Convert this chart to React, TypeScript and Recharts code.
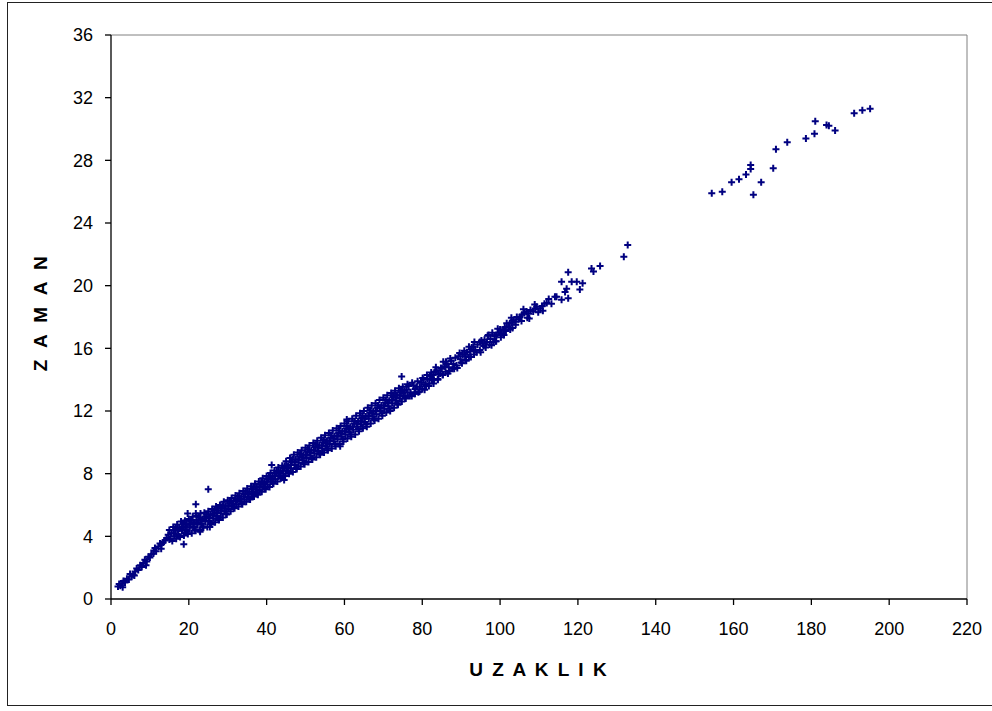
import React from 'react';
import { ScatterChart, Scatter, XAxis, YAxis, ReferenceLine, Label } from 'recharts';

// UZAKLIK (x) vs ZAMAN (y)
const SEG_A: [number, number][] = [
  [1.8,0.8],[2.1,0.95],[2.4,0.85],[2.9,1.0],[3.2,1.15],[3.6,1.05],[4.1,1.3],[4.6,1.25],[4.9,1.6],[5.3,1.45],
  [5.7,1.55],[6.2,1.75],[6.6,1.95],[7.0,1.85],[7.5,2.15],[7.9,2.05],[8.3,2.3],[8.7,2.5],[9.2,2.4],[9.6,2.7],
  [10.0,2.65],[10.4,2.85],[10.9,2.9],[11.3,3.25],[11.6,3.05],[12.2,3.35],[12.6,3.55],[12.9,3.2],[13.4,3.6],
  [13.9,3.75],[14.3,3.9],[14.7,4.1],[15.0,3.8],[3.0,0.75],[6.0,1.5],[9.0,2.15],[11.0,3.1],[13.0,3.5],
];

const SEG_B: [number, number][] = [
  [15.0,4.4],[15.25,3.85],[15.5,4.2],[15.75,3.7],[16.0,4.6],[16.25,4.0],[16.5,4.35],[16.75,3.85],
  [17.0,4.75],[17.25,4.1],[17.5,4.5],[17.75,3.95],[18.0,4.95],[18.25,4.35],[18.5,4.6],[18.75,4.05],
  [19.0,5.0],[19.25,4.4],[19.5,4.75],[19.75,4.15],[20.0,5.1],[20.25,4.55],[20.5,4.8],[20.75,4.2],
  [21.0,5.25],[21.25,4.6],[21.5,4.9],[21.75,4.35],[22.0,5.3],[22.25,4.75],[22.5,5.05],[22.75,4.4],
  [23.0,5.45],[23.25,4.8],[23.5,5.1],[23.75,4.55],[24.0,5.5],[24.25,4.95],[24.5,5.25],[24.75,4.6],
  [25.0,5.6],[25.25,5.0],[25.5,5.4],[25.75,4.75],[26.0,5.75],[26.25,5.15],[26.5,5.45],[26.75,4.9],
  [27.0,5.9],[27.25,5.3],[27.5,5.65],[27.75,5.05],[28.0,6.0],[28.25,5.45],[28.5,5.8],[28.75,5.2],
  [29.0,6.2],[29.25,5.6],[29.5,5.95],[29.75,5.4],
];

const SEG_C: [number, number][] = [
  [30.0,6.3],[30.25,5.75],[30.5,6.1],[30.75,5.6],[31.0,6.45],[31.25,5.9],[31.5,6.25],[31.75,5.8],
  [32.0,6.6],[32.25,6.05],[32.5,6.35],[32.75,5.9],[33.0,6.75],[33.25,6.2],[33.5,6.55],[33.75,6.05],
  [34.0,6.9],[34.25,6.35],[34.5,6.7],[34.75,6.2],[35.0,7.05],[35.25,6.5],[35.5,6.85],[35.75,6.35],
  [36.0,7.2],[36.25,6.65],[36.5,7.0],[36.75,6.55],[37.0,7.35],[37.25,6.8],[37.5,7.15],[37.75,6.65],
  [38.0,7.5],[38.25,6.95],[38.5,7.3],[38.75,6.85],[39.0,7.7],[39.25,7.15],[39.5,7.45],[39.75,7.0],
  [40.0,7.85],[40.25,7.3],[40.5,7.65],[40.75,7.15],[41.0,8.05],[41.25,7.5],[41.5,7.8],[41.75,7.35],
  [42.0,8.2],[42.25,7.65],[42.5,8.0],[42.75,7.5],[43.0,8.4],[43.25,7.85],[43.5,8.15],[43.75,7.7],
  [44.0,8.5],[44.25,8.0],[44.5,8.35],[44.75,7.85],[45.0,8.8],[45.25,8.2],[45.5,8.5],[45.75,8.0],
];

const SEG_D: [number, number][] = [
  [46.0,9.0],[46.25,8.35],[46.5,8.75],[46.75,8.1],[47.0,9.2],[47.25,8.55],[47.5,8.9],[47.75,8.3],
  [48.0,9.35],[48.25,8.7],[48.5,9.1],[48.75,8.45],[49.0,9.5],[49.25,8.85],[49.5,9.2],[49.75,8.6],
  [50.0,9.65],[50.25,9.0],[50.5,9.4],[50.75,8.75],[51.0,9.8],[51.25,9.15],[51.5,9.5],[51.75,8.9],
  [52.0,9.95],[52.25,9.3],[52.5,9.7],[52.75,9.05],[53.0,10.1],[53.25,9.45],[53.5,9.8],[53.75,9.2],
  [54.0,10.3],[54.25,9.6],[54.5,10.0],[54.75,9.35],[55.0,10.45],[55.25,9.75],[55.5,10.1],[55.75,9.5],
  [56.0,10.6],[56.25,9.9],[56.5,10.3],[56.75,9.6],[57.0,10.75],[57.25,10.05],[57.5,10.4],[57.75,9.75],
  [58.0,10.9],[58.25,10.2],[58.5,10.6],[58.75,9.9],[59.0,11.05],[59.25,10.35],[59.5,10.7],[59.75,10.05],
  [60.0,11.2],[60.25,10.5],[60.5,10.9],[60.75,10.25],[61.0,11.35],[61.25,10.65],[61.5,11.0],[61.75,10.35],
  [62.0,11.5],[62.25,10.8],[62.5,11.2],[62.75,10.5],[63.0,11.7],[63.25,11.0],[63.5,11.35],[63.75,10.7],
  [64.0,11.85],[64.25,11.15],[64.5,11.55],[64.75,10.9],[65.0,12.0],[65.25,11.3],[65.5,11.65],[65.75,11.0],
  [66.0,12.2],[66.25,11.5],[66.5,11.9],[66.75,11.2],[67.0,12.35],[67.25,11.65],[67.5,12.0],[67.75,11.4],
  [68.0,12.5],[68.25,11.8],[68.5,12.2],[68.75,11.5],[69.0,12.7],[69.25,12.0],[69.5,12.35],[69.75,11.7],
  [70.0,12.85],[70.25,12.15],[70.5,12.55],[70.75,11.9],[71.0,13.0],[71.25,12.3],[71.5,12.65],[71.75,12.0],
  [72.0,13.15],[72.25,12.5],[72.5,12.9],[72.75,12.2],[73.0,13.3],[73.25,12.65],[73.5,13.0],[73.75,12.4],
  [74.0,13.45],[74.25,12.8],[74.5,13.2],[74.75,12.6],[75.0,13.55],[75.25,12.95],[75.5,13.3],[75.75,12.8],
];

const SEG_FILL: [number, number][] = [
  [16.1,4.2],[16.6,4.55],[17.1,4.4],[17.6,4.0],[18.1,4.5],[18.6,4.85],[19.1,4.65],[19.6,4.3],[20.1,4.75],
  [20.6,5.05],[21.1,4.8],[21.6,4.45],[22.1,4.9],[22.6,5.2],[23.1,5.0],[23.6,4.65],[24.1,5.15],[24.6,5.4],
  [25.1,5.2],[25.6,4.85],[26.1,5.35],[26.6,5.65],[27.1,5.5],[27.6,5.15],[28.1,5.65],[28.6,5.95],[29.1,5.8],
  [29.6,5.45],[30.1,5.95],[30.6,6.25],[31.1,6.1],[31.6,5.85],[32.1,6.25],[32.6,6.55],[33.1,6.4],[33.6,6.1],
  [34.1,6.55],[34.6,6.85],[35.1,6.7],[35.6,6.4],[36.1,6.85],[36.6,7.15],[37.1,7.0],[37.6,6.7],[38.1,7.15],
  [38.6,7.45],[39.1,7.35],[39.6,7.05],[40.1,7.5],[40.6,7.8],[41.1,7.7],[41.6,7.4],[42.1,7.85],[42.6,8.15],
  [43.1,8.05],[43.6,7.75],[44.1,8.2],[44.6,8.5],[45.1,8.4],[45.6,8.1],[46.1,8.55],[46.6,8.9],[47.1,8.75],
  [47.6,8.4],[48.1,8.9],[48.6,9.25],[49.1,9.05],[49.6,8.7],[50.1,9.2],[50.6,9.55],[51.1,9.35],[51.6,9.0],
  [52.1,9.5],[52.6,9.85],[53.1,9.65],[53.6,9.3],[54.1,9.8],[54.6,10.15],[55.1,9.95],[55.6,9.6],[56.1,10.1],
  [56.6,10.45],[57.1,10.25],[57.6,9.9],[58.1,10.4],[58.6,10.75],[59.1,10.55],[59.6,10.2],[60.1,10.7],
  [60.6,11.05],[61.1,10.85],[61.6,10.5],[62.1,11.0],[62.6,11.35],[63.1,11.2],[63.6,10.85],[64.1,11.35],
  [64.6,11.7],[65.1,11.5],[65.6,11.15],[66.1,11.7],[66.6,12.05],[67.1,11.85],[67.6,11.5],[68.1,12.0],
  [68.6,12.35],[69.1,12.2],[69.6,11.85],[70.1,12.35],[70.6,12.7],[71.1,12.5],[71.6,12.15],[72.1,12.7],
  [72.6,13.0],[73.1,12.85],[73.6,12.5],[74.1,13.0],[74.6,13.3],[75.1,13.15],[75.6,12.85],
];

const OUTLIERS: [number, number][] = [
  [19.7,5.45],[21.8,6.05],[21.8,5.45],[25.0,7.0],[18.7,3.5],[22.9,4.3],[25.4,4.6],[41.3,8.55],[74.7,14.2],
  [97.0,16.85],[44.5,7.6],[60.6,11.45],[58.9,9.75],
];

const SEG_E: [number, number][] = [
  [76.0,13.35],[76.5,13.6],[77.0,13.2],[77.7,13.65],[78.2,13.4],[78.6,13.55],[79.4,13.55],[79.8,13.8],
  [80.3,14.0],[80.8,13.7],[81.3,14.05],[82.0,14.2],[82.5,13.95],[82.8,14.3],[83.3,14.5],[83.7,14.6],
  [84.2,14.35],[84.6,14.4],[85.0,14.7],[85.4,15.15],[85.8,14.85],[86.3,15.0],[86.8,14.8],[87.4,15.2],
  [88.0,15.0],[88.8,14.9],[89.3,15.5],[89.8,15.3],[90.4,15.6],[91.0,15.5],[91.5,15.75],[92.3,15.8],
  [92.7,16.05],[93.1,16.1],[93.6,15.9],[94.2,16.25],[94.8,15.9],[94.8,16.4],[95.5,16.3],[96.0,16.55],
  [96.6,16.4],[97.5,16.6],[98.3,16.4],[98.6,16.75],[99.1,16.85],[99.6,17.0],[100.0,17.2],
  [76.3,13.0],[77.3,12.95],[78.0,13.1],[79.0,13.2],[80.0,13.4],[81.0,13.6],[81.8,13.75],[83.0,14.0],
  [84.0,14.05],[85.2,14.35],[86.0,14.5],[87.0,14.55],[88.2,14.7],[90.0,15.1],[91.2,15.25],[92.0,15.45],
  [93.3,15.6],[95.0,15.75],[96.3,16.05],[97.8,16.2],[99.0,16.45],
];

const SEG_E2: [number, number][] = [
  [76.2,13.7],[76.8,12.95],[77.4,13.8],[78.1,13.1],[78.8,13.9],[79.3,13.25],[80.1,14.1],[80.6,13.35],
  [81.2,14.3],[81.7,13.6],[82.3,14.45],[82.9,13.75],[83.5,14.8],[84.0,14.0],[84.8,14.75],[85.3,14.3],
  [86.1,15.15],[86.6,14.4],[87.2,15.35],[87.8,14.7],[88.5,15.4],[89.0,14.75],[89.6,15.7],[90.2,15.05],
  [90.8,15.85],[91.3,15.2],[92.0,16.1],[92.5,15.45],[93.4,16.4],[94.0,15.75],[95.2,16.5],[95.8,16.15],
  [96.8,16.8],[97.3,16.25],[98.0,17.0],[98.8,16.45],[99.4,17.25],[100.2,16.7],
];

const SEG_F: [number, number][] = [
  [100.4,16.95],[100.8,17.2],[101.2,17.35],[101.7,17.6],[102.1,17.4],[102.6,17.2],[102.5,17.6],[103.0,17.65],
  [103.4,17.8],[103.9,17.7],[104.3,18.0],[104.8,17.85],[105.1,18.0],[105.6,18.15],[106.2,18.25],[106.8,18.35],
  [107.3,18.2],[107.8,18.45],[108.5,18.35],[109.0,18.55],[109.4,18.65],[110.3,18.55],[110.8,18.7],[111.4,18.85],
  [112.0,18.9],[114.1,19.3],[114.5,19.3],[115.8,19.1],[115.8,20.25],[116.7,19.6],[117.1,19.8],[117.5,19.2],
  [117.5,20.85],[118.4,20.25],[119.7,20.25],[120.5,19.75],[121.2,20.15],[123.5,21.1],[124.0,20.9],[125.7,21.25],
  [131.8,21.85],[132.8,22.6],[101.0,16.85],[103.2,17.3],[105.5,17.75],[107.0,17.95],[109.8,18.3],
  [101.5,17.1],[102.9,17.95],[104.0,17.5],[106.0,18.5],[107.5,17.9],[108.9,18.8],[111.0,18.4],[112.5,19.15],
  [113.2,18.85],
];

const SEG_G: [number, number][] = [
  [154.4,25.9],[157.1,26.0],[159.5,26.6],[161.4,26.8],[163.2,27.1],[164.4,27.7],[164.4,27.45],[165.1,25.8],
  [167.1,26.6],[170.2,27.5],[170.9,28.7],[173.8,29.15],[178.6,29.4],[180.8,29.7],[181.0,30.5],[183.9,30.25],
  [184.5,30.2],[186.1,29.9],[191.0,31.0],[193.1,31.2],[195.1,31.3],
];

const X_TICKS = [0, 20, 40, 60, 80, 100, 120, 140, 160, 180, 200, 220];
const Y_TICKS = [0, 4, 8, 12, 16, 20, 24, 28, 32, 36];

const X_TITLE = 'U Z A K L I K';
const Y_TITLE = 'Z A M A N';

const points = [
  ...SEG_A, ...SEG_B, ...SEG_C, ...SEG_D, ...SEG_FILL, ...OUTLIERS, ...SEG_E, ...SEG_E2, ...SEG_F, ...SEG_G,
].map(([x, y]) => ({ x, y }));

const FONT = '"Liberation Sans", Arial, sans-serif';
const MARK = '#000080';

const Plus = (props: any) => {
  const { cx, cy } = props;
  if (cx == null || cy == null) return null;
  return (
    <path
      d={`M${cx - 3.5},${cy}H${cx + 3.5}M${cx},${cy - 3.5}V${cy + 3.5}`}
      stroke={MARK}
      strokeWidth={2}
      fill="none"
    />
  );
};

const tickStyle = { fontSize: 18, fontFamily: FONT, fill: '#000' };

export default function App() {
  return (
    <div style={{ position: 'absolute', left: 0, top: 0, width: 992, height: 711, background: '#fff', overflow: 'hidden' }}>
      <div
        style={{
          position: 'absolute',
          left: 7,
          top: 2,
          width: 985,
          height: 704,
          borderLeft: '1.5px solid #222',
          borderTop: '1.5px solid #222',
          borderBottom: '1.5px solid #222',
          boxSizing: 'border-box',
        }}
      />
      <div style={{ position: 'absolute', left: 0, top: 0 }}>
        <ScatterChart width={992} height={711} margin={{ top: 35, right: 25, bottom: 52, left: 0 }}>
          <XAxis
            type="number"
            dataKey="x"
            domain={[0, 220]}
            ticks={X_TICKS}
            interval={0}
            allowDataOverflow
            height={60}
            tickSize={6}
            tickMargin={17}
            tick={tickStyle}
            axisLine={{ stroke: '#000', strokeWidth: 1.3 }}
            tickLine={{ stroke: '#000', strokeWidth: 1.3 }}
          >
            <Label
              content={() => (
                <text
                  x={539}
                  y={676}
                  textAnchor="middle"
                  style={{ fontFamily: FONT, fontSize: 19, fontWeight: 'bold', letterSpacing: 2 }}
                  fill="#000"
                >
                  {X_TITLE}
                </text>
              )}
            />
          </XAxis>
          <YAxis
            type="number"
            dataKey="y"
            domain={[0, 36]}
            ticks={Y_TICKS}
            interval={0}
            allowDataOverflow
            width={111}
            tickSize={6}
            tickMargin={12}
            tick={tickStyle}
            axisLine={{ stroke: '#000', strokeWidth: 1.3 }}
            tickLine={{ stroke: '#000', strokeWidth: 1.3 }}
          >
            <Label
              content={() => (
                <text
                  x={47}
                  y={312}
                  textAnchor="middle"
                  transform="rotate(-90 47 312)"
                  style={{ fontFamily: FONT, fontSize: 19, fontWeight: 'bold', letterSpacing: 3.5 }}
                  fill="#000"
                >
                  {Y_TITLE}
                </text>
              )}
            />
          </YAxis>
          <ReferenceLine y={36} stroke="#808080" strokeWidth={1} ifOverflow="visible" />
          <ReferenceLine x={220} stroke="#808080" strokeWidth={1} ifOverflow="visible" />
          <Scatter data={points} shape={<Plus />} isAnimationActive={false} />
        </ScatterChart>
      </div>
    </div>
  );
}
